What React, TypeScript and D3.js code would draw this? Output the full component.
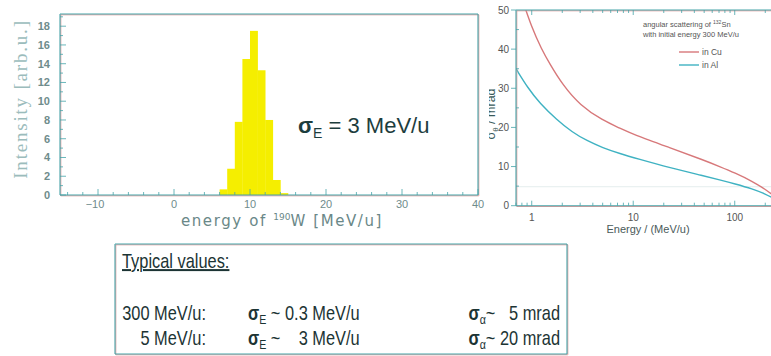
import * as d3 from "d3";
import React, { useEffect, RefObject } from "react";

// histogram of 190W energy (left panel)
const binEdges: number[] = [6, 7, 8, 9, 10, 11, 12, 13, 14];
const binCounts: number[] = [0.6, 2.8, 7.8, 14.5, 17.5, 13.3, 8.0, 1.6, 0.2];
const histXTicks: number[] = [-10, 0, 10, 20, 30, 40];
const histYTicks: number[] = [0, 2, 4, 6, 8, 10, 12, 14, 16, 18];

// angular scattering (right panel)
const cuEnergy: number[] = [0.8, 1, 1.25, 1.5, 2, 3, 5, 7.4, 10, 23, 50, 71, 100, 150, 200, 240];
const cuSigma: number[] = [53, 45.5, 40, 36.3, 31, 25.6, 21.8, 19.8, 18.2, 14.8, 11.6, 10.0, 8.4, 6.2, 4.2, 2.6];
const alEnergy: number[] = [0.7, 0.92, 1.2, 1.76, 2.5, 3.5, 5, 7.4, 11, 23, 50, 71, 100, 150, 200, 240];
const alSigma: number[] = [35, 30, 26.2, 22, 18.8, 16.6, 14.8, 13.3, 12, 9.7, 7.6, 6.6, 5.6, 4.3, 3.0, 1.9];
const angXTicks: number[] = [1, 10, 100];
const angYTicks: number[] = [0, 10, 20, 30, 40, 50];

// summary box rows
const rowEnergy: string[] = ["300 MeV/u:", "5 MeV/u:"];
const rowSigmaE: string[] = ["~ 0.3 MeV/u", "~    3 MeV/u"];
const rowSigmaA: string[] = ["~   5 mrad", "~ 20 mrad"];

const teal = "#45a3a8";
const pink = "#e29a9a";

const App = () => {
	const ref: RefObject<HTMLDivElement> = React.createRef();

	useEffect(() => draw());

	const draw = () => {
		d3.select(ref.current).selectAll("svg").remove();
		const svg = d3
			.select(ref.current)
			.append("svg")
			.attr("width", 771)
			.attr("height", 356)
			.style("position", "absolute")
			.style("left", "0px")
			.style("top", "0px")
			.style("background", "#fff");

		// two slightly offset strokes, like the misregistered scan
		const frame = (x1: number, y1: number, x2: number, y2: number) => {
			svg.append("line")
				.attr("x1", x1 + 0.8).attr("y1", y1 + 0.8)
				.attr("x2", x2 + 0.8).attr("y2", y2 + 0.8)
				.attr("stroke", pink).attr("stroke-width", 1);
			svg.append("line")
				.attr("x1", x1).attr("y1", y1)
				.attr("x2", x2).attr("y2", y2)
				.attr("stroke", teal).attr("stroke-width", 1.1);
		};

		// ---------- left panel ----------
		const lx = d3.scaleLinear().domain([-15, 40]).range([60, 478]);
		const ly = d3.scaleLinear().domain([0, 19.3]).range([195, 14]);

		svg.append("g")
			.selectAll("rect")
			.data(binEdges)
			.enter()
			.append("rect")
			.attr("x", (d) => lx(d))
			.attr("y", (d, i) => ly(binCounts[i]))
			.attr("width", (d) => lx(d + 1) - lx(d) + 0.3)
			.attr("height", (d, i) => ly(0) - ly(binCounts[i]))
			.attr("fill", "#f5ee00");

		frame(60, 14, 478, 14);
		frame(478, 14, 478, 195);
		frame(60, 14, 60, 195);
		frame(60, 195, 478, 195);

		// x ticks (inward)
		d3.range(-14, 41, 2).forEach((v) => {
			const major = v % 10 === 0;
			svg.append("line")
				.attr("x1", lx(v)).attr("x2", lx(v))
				.attr("y1", 195).attr("y2", 195 - (major ? 6 : 3))
				.attr("stroke", teal).attr("stroke-width", 0.8);
		});
		histXTicks.forEach((v) => {
			svg.append("text")
				.attr("x", lx(v) - (v < 0 ? 3 : 0))
				.attr("y", 208)
				.attr("text-anchor", "middle")
				.attr("font-family", "Liberation Sans, Arial, sans-serif")
				.attr("font-size", 11)
				.attr("fill", "#6f8c8c")
				.text(v === -10 ? "\u221210" : String(v));
		});
		d3.range(0, 19.1, 1).forEach((v) => {
			const major = v % 2 === 0;
			svg.append("line")
				.attr("x1", 60).attr("x2", 60 + (major ? 6 : 3))
				.attr("y1", ly(v)).attr("y2", ly(v))
				.attr("stroke", teal).attr("stroke-width", 0.8);
		});
		histYTicks.forEach((v) => {
			svg.append("text")
				.attr("x", 50)
				.attr("y", ly(v) + 4)
				.attr("text-anchor", "end")
				.attr("font-family", "Liberation Sans, Arial, sans-serif")
				.attr("font-size", 11)
				.attr("font-weight", "bold")
				.attr("fill", "#6f8c8c")
				.text(String(v));
		});

		svg.append("text")
			.attr("transform", "translate(27, 99) rotate(-90)")
			.attr("text-anchor", "middle")
			.attr("font-family", "Liberation Serif, DejaVu Serif, serif")
			.attr("font-size", 19)
			.attr("letter-spacing", 1.8)
			.attr("fill", "#9bbcbc")
			.text("Intensity  [arb.u.]");

		const xl = svg.append("text")
			.attr("x", 282)
			.attr("y", 226)
			.attr("text-anchor", "middle")
			.attr("font-family", "DejaVu Sans, Verdana, sans-serif")
			.attr("font-size", 15)
			.attr("letter-spacing", 1.6)
			.attr("fill", "#6a8888");
		xl.append("tspan").text("energy of ");
		xl.append("tspan").attr("font-size", 9).attr("dy", -6).attr("letter-spacing", 0).text("190");
		xl.append("tspan").attr("dy", 6).text("W [MeV/u]");

		const sig = svg.append("text")
			.attr("x", 298)
			.attr("y", 133)
			.attr("font-family", "Liberation Sans, Arial, sans-serif")
			.attr("font-size", 22)
			.attr("fill", "#1d3d3d");
		sig.append("tspan").attr("font-weight", "bold").text("\u03c3");
		sig.append("tspan").attr("font-size", 14).attr("dy", 5).text("E");
		sig.append("tspan").attr("dy", -5).text(" = 3 MeV/u");

		// ---------- right panel ----------
		const rx = d3
			.scaleLog()
			.domain([0.7, 300])
			.range([516, 516 + Math.log10(300 / 0.7) * 101.5]);
		const ry = d3.scaleLinear().domain([0, 50]).range([205.7, 10]);

		const defs = svg.append("defs");
		defs.append("clipPath")
			.attr("id", "rclip")
			.append("rect")
			.attr("x", 516).attr("y", 10)
			.attr("width", 300).attr("height", 196);
		defs.append("clipPath")
			.attr("id", "lblclip")
			.append("rect")
			.attr("x", 489).attr("y", 0)
			.attr("width", 25).attr("height", 230);

		// faint reference line
		svg.append("line")
			.attr("x1", 516).attr("x2", 771)
			.attr("y1", ry(4.85)).attr("y2", ry(4.85))
			.attr("stroke", "#dde8e8").attr("stroke-width", 0.8);

		const line = d3
			.line<number>()
			.curve(d3.curveBasis);
		const addCurve = (xs: number[], ys: number[], color: string) => {
			svg.append("path")
				.datum(xs)
				.attr("clip-path", "url(#rclip)")
				.attr("fill", "none")
				.attr("stroke", color)
				.attr("stroke-width", 1.4)
				.attr(
					"d",
					line
						.x((d) => rx(d))
						.y((d, i) => ry(ys[i]))
				);
		};
		addCurve(cuEnergy, cuSigma, "#d7787a");
		addCurve(alEnergy, alSigma, "#3fb2c2");

		frame(516, 10, 771, 10);
		frame(516, 10, 516, 205.7);
		frame(516, 205.7, 771, 205.7);

		// log ticks
		[1, 10, 100].forEach((dec) => {
			d3.range(1, 10).forEach((m) => {
				const v = dec * m;
				if (v > 300) return;
				const len = m === 1 ? 5 : 3;
				svg.append("line")
					.attr("x1", rx(v)).attr("x2", rx(v))
					.attr("y1", 205.7).attr("y2", 205.7 - len)
					.attr("stroke", teal).attr("stroke-width", 0.8);
				svg.append("line")
					.attr("x1", rx(v)).attr("x2", rx(v))
					.attr("y1", 10).attr("y2", 10 + len)
					.attr("stroke", teal).attr("stroke-width", 0.8);
			});
		});
		[0.7, 0.8, 0.9].forEach((v) => {
			svg.append("line")
				.attr("x1", rx(v)).attr("x2", rx(v))
				.attr("y1", 205.7).attr("y2", 202.7)
				.attr("stroke", teal).attr("stroke-width", 0.8);
		});
		angXTicks.forEach((v) => {
			svg.append("text")
				.attr("x", rx(v))
				.attr("y", 221)
				.attr("text-anchor", "middle")
				.attr("font-family", "Liberation Sans, Arial, sans-serif")
				.attr("font-size", 10)
				.attr("fill", "#555")
				.text(String(v));
		});
		d3.range(0, 51, 5).forEach((v) => {
			const major = v % 10 === 0;
			svg.append("line")
				.attr("x1", major ? 511 : 516).attr("x2", major ? 516 : 519)
				.attr("y1", ry(v)).attr("y2", ry(v))
				.attr("stroke", teal).attr("stroke-width", 0.8);
		});
		angYTicks.forEach((v) => {
			svg.append("text")
				.attr("x", 509)
				.attr("y", ry(v) + 3.5)
				.attr("text-anchor", "end")
				.attr("font-family", "Liberation Sans, Arial, sans-serif")
				.attr("font-size", 10)
				.attr("fill", "#555")
				.text(String(v));
		});
		svg.append("text")
			.attr("x", 648)
			.attr("y", 233)
			.attr("text-anchor", "middle")
			.attr("font-family", "Liberation Sans, Arial, sans-serif")
			.attr("font-size", 11)
			.attr("fill", "#4a5a5a")
			.text("Energy / (MeV/u)");

		// y label, cut off at the left edge as in the source figure
		const yl = svg.append("g")
			.attr("clip-path", "url(#lblclip)")
			.append("text")
			.attr("transform", "translate(495, 114) rotate(-90)")
			.attr("text-anchor", "middle")
			.attr("font-family", "Liberation Sans, Arial, sans-serif")
			.attr("font-size", 12.5)
			.attr("fill", "#3a5a5a");
		yl.append("tspan").text("\u03c3");
		yl.append("tspan").attr("font-size", 8).attr("dy", 3).text("\u03b8");
		yl.append("tspan").attr("dy", -3).text(" / mrad");

		// legend
		const lg = svg.append("text")
			.attr("x", 643).attr("y", 27)
			.attr("font-family", "Liberation Sans, Arial, sans-serif")
			.attr("font-size", 7.5)
			.attr("fill", "#555");
		lg.append("tspan").text("angular scattering of ");
		lg.append("tspan").attr("font-size", 5).attr("dy", -3).text("132");
		lg.append("tspan").attr("dy", 3).text("Sn");
		svg.append("text")
			.attr("x", 643).attr("y", 37)
			.attr("font-family", "Liberation Sans, Arial, sans-serif")
			.attr("font-size", 7.5)
			.attr("fill", "#555")
			.text("with initial energy 300 MeV/u");
		[["in Cu", "#d7787a"], ["in Al", "#3fb2c2"]].forEach(([name, c], i) => {
			const y = 52 + i * 13;
			svg.append("line")
				.attr("x1", 679).attr("x2", 699)
				.attr("y1", y).attr("y2", y)
				.attr("stroke", c).attr("stroke-width", 1.4);
			svg.append("text")
				.attr("x", 702).attr("y", y + 3)
				.attr("font-family", "Liberation Sans, Arial, sans-serif")
				.attr("font-size", 8.5)
				.attr("fill", "#555")
				.text(name);
		});

		// ---------- bottom box ----------
		frame(115, 244, 567, 244);
		frame(115, 244, 115, 354);
		frame(567, 244, 567, 354);
		frame(115, 354, 567, 354);

		const font = "Liberation Sans, Arial, sans-serif";
		const ink = "#1c3434";
		const narrow = (x: number, y: number) =>
			svg.append("text")
				.attr("transform", `translate(${x}, ${y}) scale(0.82, 1)`)
				.attr("font-family", font)
				.attr("font-size", 20)
				.attr("fill", ink)
				.style("white-space", "pre");

		narrow(122, 268)
			.attr("text-decoration", "underline")
			.text("Typical values:");

		rowEnergy.forEach((label, i) => {
			const y = 320 + i * 25;
			narrow(206, y).attr("text-anchor", "end").text(label);
			const e = narrow(248, y);
			e.append("tspan").attr("font-weight", "bold").text("\u03c3");
			e.append("tspan").attr("font-size", 13).attr("dy", 4).text("E");
			e.append("tspan").attr("dy", -4).text(" " + rowSigmaE[i]);
			const a = narrow(560, y).attr("text-anchor", "end");
			a.append("tspan").attr("font-weight", "bold").text("\u03c3");
			a.append("tspan").attr("font-size", 13).attr("dy", 4).text("\u03b1");
			a.append("tspan").attr("dy", -4).text(rowSigmaA[i]);
		});
	};

	return <div ref={ref}></div>;
};

export default App;
